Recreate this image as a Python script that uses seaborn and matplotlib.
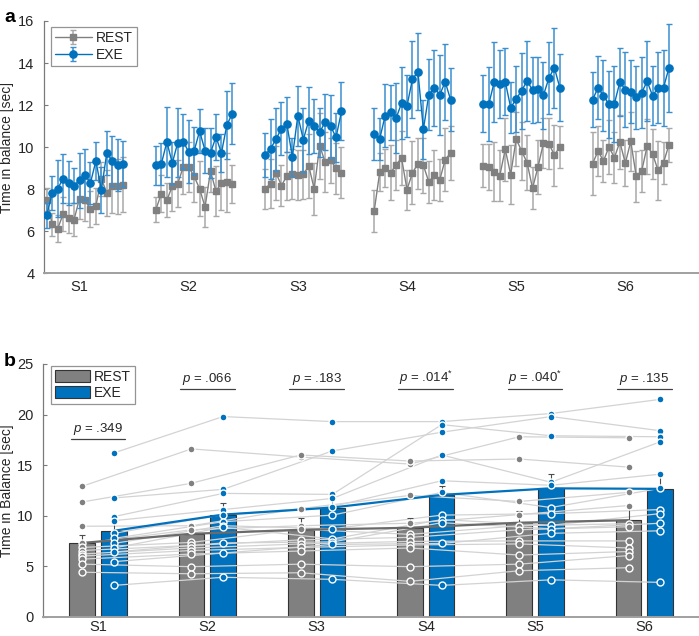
import numpy as np
import pandas as pd
import seaborn as sns
import matplotlib.pyplot as plt

sns.set_theme(style='white')
plt.rcParams['font.family'] = ['Liberation Sans', 'DejaVu Sans']
plt.rcParams['mathtext.fontset'] = 'custom'
plt.rcParams['mathtext.rm'] = 'Liberation Sans'
plt.rcParams['mathtext.it'] = 'Liberation Sans:italic'

GRAY = '#808080'
BLUE = '#0072BD'
TXT = '#262626'

sessions = ['S1', 'S2', 'S3', 'S4', 'S5', 'S6']

# ---- panel a: trial means (15 trials per session) ----
rest_trials = [
    [7.51, 6.34, 6.13, 6.82, 6.64, 6.56, 7.56, 7.48, 7.05, 7.21, 8.50, 7.83, 8.18, 8.15, 8.22],
    [7.04, 7.80, 7.48, 8.15, 8.27, 9.06, 9.06, 8.62, 8.03, 7.16, 8.86, 7.91, 8.30, 8.34, 8.24],
    [8.02, 8.27, 8.78, 8.18, 8.64, 8.73, 8.67, 8.71, 9.11, 8.02, 10.08, 9.29, 9.38, 9.00, 8.79],
    [6.99, 8.81, 9.03, 8.79, 9.16, 9.49, 7.99, 8.78, 9.22, 9.14, 8.35, 8.68, 8.45, 9.41, 9.73],
    [9.13, 9.06, 8.84, 8.65, 9.90, 8.70, 10.39, 9.82, 9.27, 8.05, 9.06, 10.20, 10.17, 9.63, 10.01],
    [9.22, 9.82, 9.35, 10.01, 9.51, 10.25, 9.24, 10.28, 8.62, 8.87, 10.05, 9.68, 8.90, 9.27, 10.12],
]
rest_trials_err = [
    [0.55, 0.55, 0.65, 0.8, 0.7, 0.8, 0.95, 1.0, 0.85, 0.85, 0.8, 1.1, 1.3, 1.3, 1.3],
    [0.6, 0.9, 0.8, 1.2, 1.1, 1.3, 1.2, 1.2, 1.3, 0.95, 1.0, 1.2, 1.3, 1.4, 0.9],
    [0.94, 1.17, 1.3, 0.98, 1.15, 1.2, 1.2, 1.15, 1.5, 1.25, 1.57, 1.43, 1.07, 1.2, 1.2],
    [1.0, 0.9, 0.9, 1.3, 1.2, 1.3, 0.95, 1.5, 1.2, 1.3, 1.0, 1.2, 1.0, 1.5, 1.3],
    [1.0, 1.1, 1.4, 1.2, 1.5, 1.4, 1.3, 1.4, 1.3, 1.0, 1.3, 1.2, 1.2, 1.45, 1.0],
    [1.5, 1.2, 1.0, 1.3, 1.2, 1.3, 1.1, 1.4, 1.2, 1.0, 1.3, 1.2, 1.4, 1.0, 0.8],
]
exe_trials = [
    [6.77, 7.83, 8.03, 8.51, 8.30, 8.18, 8.43, 8.70, 8.30, 9.35, 7.97, 9.73, 9.35, 9.16, 9.22],
    [9.14, 9.22, 10.25, 9.25, 10.22, 10.27, 9.78, 9.82, 10.77, 9.84, 9.73, 10.49, 9.73, 11.06, 11.60],
    [9.63, 9.93, 10.38, 10.89, 11.09, 9.54, 11.50, 10.36, 11.27, 11.01, 10.71, 11.20, 11.00, 10.47, 11.71],
    [10.62, 10.40, 11.50, 11.66, 11.38, 12.09, 11.96, 13.24, 13.59, 10.85, 12.50, 12.83, 12.50, 13.10, 12.25],
    [12.06, 12.06, 13.12, 13.00, 13.12, 11.88, 12.29, 12.69, 13.15, 12.72, 12.75, 12.47, 13.29, 13.78, 12.83],
    [12.26, 12.82, 12.45, 12.04, 12.07, 13.10, 12.74, 12.64, 12.37, 12.60, 13.13, 12.44, 12.83, 12.83, 13.78],
]
exe_trials_err = [
    [0.6, 0.8, 1.35, 1.15, 1.05, 0.85, 1.3, 1.2, 1.0, 0.9, 1.1, 1.05, 1.2, 1.25, 1.1],
    [0.92, 1.0, 1.66, 1.0, 1.65, 1.3, 1.5, 1.14, 1.03, 1.08, 1.2, 1.1, 0.9, 1.6, 1.43],
    [1.05, 1.43, 1.5, 1.28, 1.3, 0.9, 1.43, 1.52, 1.57, 1.3, 1.17, 1.33, 1.5, 1.18, 1.38],
    [1.25, 1.0, 1.5, 1.3, 1.67, 1.72, 1.47, 1.83, 1.83, 1.4, 1.7, 1.8, 1.9, 1.8, 1.5],
    [1.35, 1.75, 1.9, 1.6, 1.6, 1.2, 1.55, 1.8, 1.9, 1.55, 1.55, 1.6, 1.7, 1.9, 1.6],
    [1.3, 1.5, 1.7, 1.6, 1.8, 1.6, 1.8, 1.5, 1.5, 1.7, 1.9, 1.4, 1.7, 1.8, 2.1],
]

# ---- panel b: session means, sem and individual subjects ----
rest_mean = [7.3, 8.2, 8.6, 8.8, 9.3, 9.55]
exe_mean = [8.5, 10.1, 10.8, 12.05, 12.7, 12.65]
rest_sem = [0.8, 0.8, 1.2, 1.0, 1.2, 1.3]
exe_sem = [0.9, 1.1, 1.2, 0.9, 1.4, 1.45]

# rows = sessions, columns = subjects
rest_subj = [
    [12.9, 11.35, 8.95, 7.25, 6.85, 6.55, 6.2, 6.0, 5.7, 5.2, 4.4],
    [16.6, 13.2, 9.0, 8.6, 7.35, 7.05, 6.8, 6.55, 6.2, 4.95, 4.25],
    [15.8, 16.0, 10.7, 9.0, 8.65, 7.6, 7.2, 6.85, 6.5, 5.2, 4.35],
    [15.1, 15.4, 12.0, 9.25, 8.15, 7.85, 7.45, 7.1, 6.8, 4.95, 3.5],
    [17.8, 15.6, 11.4, 10.1, 9.0, 8.6, 7.5, 7.2, 6.1, 5.2, 4.55],
    [17.7, 14.8, 12.3, 11.0, 9.2, 8.9, 7.5, 6.8, 6.45, 6.05, 4.85],
]
exe_subj = [
    [16.2, 11.75, 9.9, 9.5, 8.25, 7.75, 7.25, 6.8, 6.4, 5.45, 3.1],
    [19.8, 12.6, 12.2, 10.6, 10.1, 9.4, 9.0, 8.85, 7.3, 6.3, 3.9],
    [19.3, 16.4, 12.1, 11.7, 10.9, 10.05, 8.7, 7.7, 7.4, 7.15, 3.7],
    [19.3, 18.25, 19.0, 16.0, 13.45, 12.3, 10.05, 9.6, 9.3, 7.25, 3.1],
    [20.1, 19.8, 17.9, 13.3, 13.0, 10.8, 10.2, 9.05, 8.7, 8.25, 3.65],
    [21.5, 18.4, 17.8, 17.3, 14.1, 12.7, 10.6, 10.2, 9.25, 8.5, 3.4],
]
p_values = ['.349', '.066', '.183', '.014', '.040', '.135']
p_signif = [False, False, False, True, True, False]
p_level = [17.55, 22.5, 22.5, 22.5, 22.5, 22.5]

fig = plt.figure(figsize=(6.99, 6.36), dpi=100)


def style_axes(ax, xpad=5):
    sns.despine(ax=ax)
    ax.spines['left'].set_color('#7a7a7a')
    ax.spines['left'].set_linewidth(0.9)
    ax.spines['bottom'].set_color('#a0a0a0')
    ax.spines['bottom'].set_linewidth(1.4)
    ax.tick_params(axis='y', direction='in', length=3, width=0.8, color='#7a7a7a',
                   labelsize=10.5, labelcolor=TXT, pad=7, left=True)
    ax.tick_params(axis='x', length=0, labelsize=10.5, labelcolor=TXT, pad=xpad)


# ================= panel a =================
ax = fig.add_axes([0.063, 0.570, 0.937, 0.397])
h_rest = h_exe = None
for s in range(6):
    x = 20 * s + np.arange(1, 16)
    h_rest = ax.errorbar(x, rest_trials[s], yerr=rest_trials_err[s], fmt='-s', color=GRAY,
                         ecolor='#a8a8a8', ms=4.3, lw=1, elinewidth=1.1, capsize=2.5,
                         capthick=1, zorder=2)
for s in range(6):
    x = 20 * s + np.arange(1, 16)
    h_exe = ax.errorbar(x, exe_trials[s], yerr=exe_trials_err[s], fmt='-o', color=BLUE,
                        ecolor='#3a8fd0', ms=5.2, lw=1, elinewidth=1.1, capsize=2.5,
                        capthick=1, zorder=3)
ax.set_xlim(0.5, 120.5)
ax.set_ylim(4, 16)
ax.set_yticks(range(4, 17, 2))
ax.set_xticks([20 * s + 7 for s in range(6)])
ax.set_xticklabels(sessions)
ax.set_ylabel('Time in balance [sec]', fontsize=10, color=TXT)
ax.yaxis.set_label_coords(-0.046, 0.5)
style_axes(ax)
leg = ax.legend([h_rest, h_exe], ['REST', 'EXE'], loc='upper left',
                bbox_to_anchor=(0.011, 0.977), fontsize=10, frameon=True, fancybox=False,
                handlelength=2.6, borderpad=0.3, labelspacing=0.2, handletextpad=0.3,
                borderaxespad=0)
leg.get_frame().set_edgecolor('#7a7a7a')
leg.get_frame().set_linewidth(0.9)

# ================= panel b =================
ax = fig.add_axes([0.062, 0.0303, 0.938, 0.3974])
df = pd.DataFrame({
    'session': sessions * 2,
    'cond': ['REST'] * 6 + ['EXE'] * 6,
    'value': rest_mean + exe_mean,
})
sns.barplot(data=df, x='session', y='value', hue='cond', hue_order=['REST', 'EXE'],
            palette={'REST': GRAY, 'EXE': BLUE}, saturation=1, width=0.58, gap=0.19,
            edgecolor='#333333', linewidth=0.8, errorbar=None, ax=ax, zorder=1)

pos = np.arange(6)
x_rest = pos - 0.145
x_exe = pos + 0.145
rest_arr = np.array(rest_subj)
exe_arr = np.array(exe_subj)

# individual subject trajectories
for j in range(rest_arr.shape[1]):
    ax.plot(x_rest, rest_arr[:, j], color='#d3d3d3', lw=0.9, zorder=2)
    ax.plot(x_exe, exe_arr[:, j], color='#d3d3d3', lw=0.9, zorder=2)

ax.errorbar(x_rest, rest_mean, yerr=[np.zeros(6), rest_sem], fmt='none', ecolor='#4d4d4d',
            elinewidth=0.8, capsize=2.5, capthick=0.8, zorder=3)
ax.errorbar(x_exe, exe_mean, yerr=[np.zeros(6), exe_sem], fmt='none', ecolor='#4d4d4d',
            elinewidth=0.8, capsize=2.5, capthick=0.8, zorder=3)

ax.plot(x_rest, rest_mean, color='#6a6a6a', lw=1.6, zorder=4)
ax.plot(x_exe, exe_mean, color=BLUE, lw=1.6, zorder=4)

for k in range(6):
    ax.plot(np.full(rest_arr.shape[1], x_rest[k]), rest_arr[k], 'o', ms=5, mfc=GRAY,
            mec='white', mew=1.0, zorder=5)
    ax.plot(np.full(exe_arr.shape[1], x_exe[k]), exe_arr[k], 'o', ms=5, mfc=BLUE,
            mec='white', mew=1.0, zorder=5)

# p-value brackets
for k in range(6):
    yl = p_level[k]
    ax.plot([k - 0.25, k + 0.25], [yl, yl], color='#404040', lw=0.9, zorder=5)
    lab = r'$\it{p}$ = ' + p_values[k] + (r'$^{*}$' if p_signif[k] else '')
    ax.text(k, yl + 0.25, lab, ha='center', va='bottom', fontsize=9.5, color=TXT)

ax.set_xlim(-0.5, 5.5)
ax.set_ylim(0, 25)
ax.set_yticks(range(0, 26, 5))
ax.set_xlabel('')
ax.set_ylabel('Time in Balance [sec]', fontsize=10, color=TXT)
ax.yaxis.set_label_coords(-0.045, 0.5)
style_axes(ax, xpad=2.5)
handles, labels = ax.get_legend_handles_labels()
leg = ax.legend(handles[:2], labels[:2], loc='upper left', bbox_to_anchor=(0.012, 0.993),
                fontsize=10, frameon=True, fancybox=False, handlelength=2.5,
                handleheight=0.9, borderpad=0.3, labelspacing=0.15, handletextpad=0.25,
                borderaxespad=0)
leg.get_frame().set_edgecolor('#7a7a7a')
leg.get_frame().set_linewidth(0.9)

fig.text(0.006, 1 - 18 / 636, 'a', fontsize=14, fontweight='bold', va='center', color='black')
fig.text(0.006, 1 - 362 / 636, 'b', fontsize=14, fontweight='bold', va='center', color='black')

fig.savefig('out.png', dpi=100)
